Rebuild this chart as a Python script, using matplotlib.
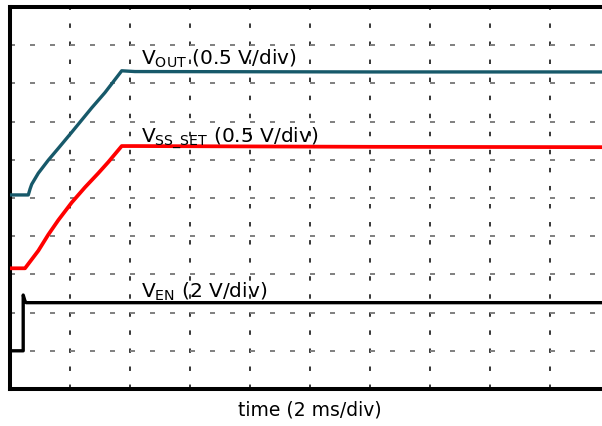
import matplotlib
matplotlib.use("Agg")
import matplotlib.pyplot as plt

plt.rcParams['font.family'] = ['DejaVu Sans']
plt.rcParams['mathtext.fontset'] = 'dejavusans'
plt.rcParams['lines.scale_dashes'] = False

# traces in divisions (x: 2 ms/div, y: screen divisions)
vout_t = [0, 0.305, 0.335, 0.362, 0.472, 0.638, 0.805, 1.028, 1.362, 1.583, 1.862, 2.083, 6.0, 10.0]
vout_v = [5.08, 5.08, 5.24, 5.36, 5.65, 5.99, 6.30, 6.72, 7.36, 7.76, 8.33, 8.31, 8.30, 8.30]

vss_t = [0, 0.25, 0.472, 0.638, 0.805, 1.028, 1.25, 1.472, 1.638, 1.862, 2.083, 6.0, 10.0]
vss_v = [3.16, 3.16, 3.62, 4.04, 4.42, 4.88, 5.28, 5.65, 5.94, 6.36, 6.36, 6.34, 6.33]

ven_t = [0, 0.22, 0.22, 0.25, 0.27, 6.0, 10.0]
ven_v = [1.0, 1.0, 2.46, 2.30, 2.26, 2.26, 2.26]

labels = [r'$\mathrm{V_{OUT}}$ (0.5 V/div)', r'$\mathrm{V_{SS\_SET}}$ (0.5 V/div)', r'$\mathrm{V_{EN}}$ (2 V/div)']
label_x = [2.18, 2.18, 2.18]
label_y = [8.48, 6.46, 2.38]

fig = plt.figure(figsize=(6.02, 4.26), dpi=100)
ax = fig.add_axes([10 / 602, 37 / 426, 600 / 602, 382 / 426])
ax.set_xlim(0, 10)
ax.set_ylim(0, 10)

# scope graticule
for gx in range(1, 10):
    ax.axvline(gx, color='black', lw=1.1, linestyle=(0, (3.2, 9.8)), zorder=1)
for gy in range(1, 10):
    ax.axhline(gy, color='#7f7f7f', lw=1.4, linestyle=(0, (3.6, 10.8)), zorder=1)

ax.plot(vout_t, vout_v, color='#17596a', lw=2.4, zorder=3)
ax.plot(vss_t, vss_v, color='#ff0000', lw=2.7, zorder=3)
ax.plot(ven_t, ven_v, color='black', lw=2.4, zorder=3)

for txt, x, y in zip(labels, label_x, label_y):
    ax.text(x, y, txt, fontsize=14.5, va='baseline', ha='left', color='black', zorder=4)

ax.set_xlabel('time (2 ms/div)', fontsize=13.5, labelpad=8)
ax.set_xticks([])
ax.set_yticks([])
for side in ['left', 'top', 'bottom']:
    ax.spines[side].set_linewidth(2.9)
    ax.spines[side].set_color('black')
ax.spines['right'].set_visible(False)

fig.savefig('out.png', dpi=100)
